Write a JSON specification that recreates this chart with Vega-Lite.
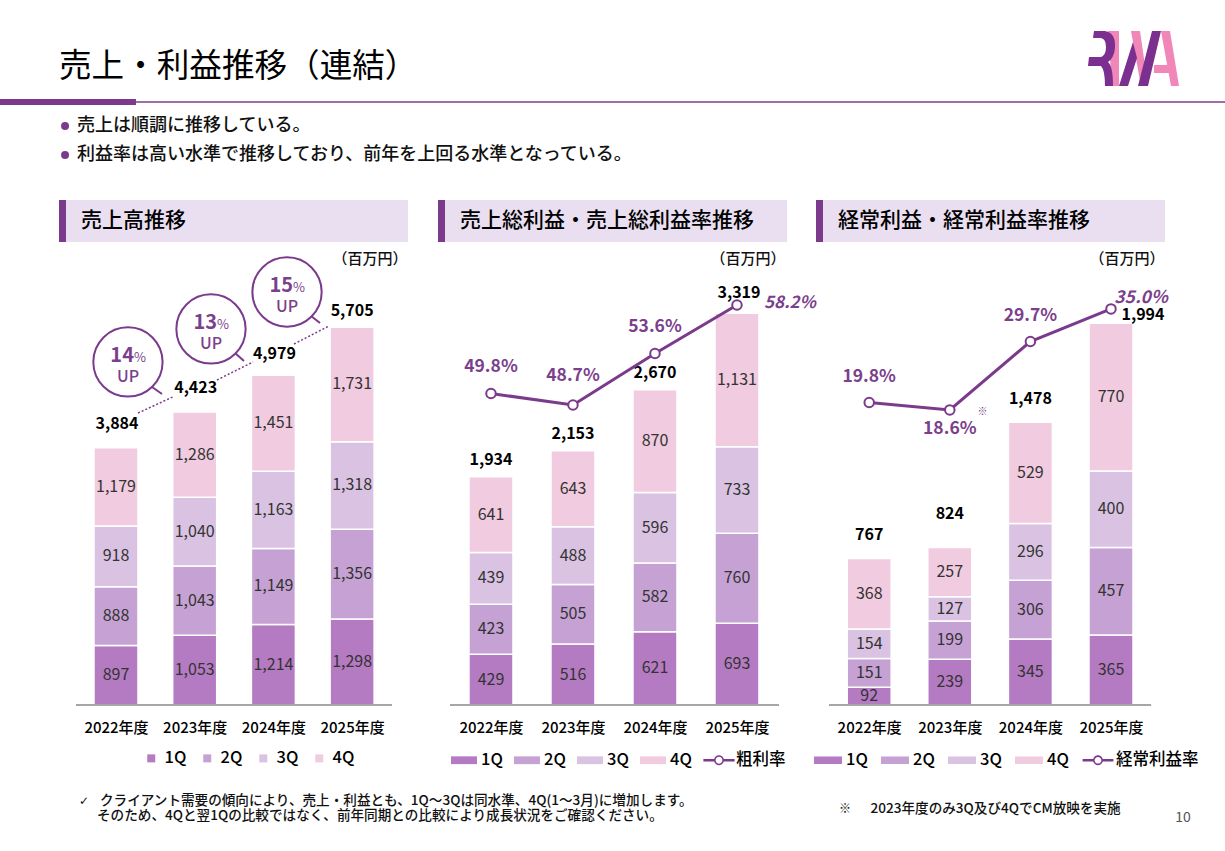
{
"$schema":"https://vega.github.io/schema/vega-lite/v6.json",
"background":"white",
"padding":{"left":0,"right":0,"top":31,"bottom":0},
"spacing":4,
"config":{"view":{"stroke":null},"font":"Noto Sans CJK JP","text":{"font":"Noto Sans CJK JP"},"title":{"font":"Noto Sans CJK JP"},"legend":{"labelFont":"Noto Sans CJK JP"},"axis":{"labelFont":"Noto Sans CJK JP"}},
"datasets":{
"blank":[{}],
"sales":[
{"year":2022,"quarter":"1Q","value":897},{"year":2022,"quarter":"2Q","value":888},{"year":2022,"quarter":"3Q","value":918},{"year":2022,"quarter":"4Q","value":1179},
{"year":2023,"quarter":"1Q","value":1053},{"year":2023,"quarter":"2Q","value":1043},{"year":2023,"quarter":"3Q","value":1040},{"year":2023,"quarter":"4Q","value":1286},
{"year":2024,"quarter":"1Q","value":1214},{"year":2024,"quarter":"2Q","value":1149},{"year":2024,"quarter":"3Q","value":1163},{"year":2024,"quarter":"4Q","value":1451},
{"year":2025,"quarter":"1Q","value":1298},{"year":2025,"quarter":"2Q","value":1356},{"year":2025,"quarter":"3Q","value":1318},{"year":2025,"quarter":"4Q","value":1731}],
"salesTotal":[{"year":2022,"total":3884},{"year":2023,"total":4423},{"year":2024,"total":4979},{"year":2025,"total":5705}],
"growth":[{"year":2022.152,"level":5177,"pct":"14","word":"UP"},{"year":2023.207,"level":5675,"pct":"13","word":"UP"},{"year":2024.173,"level":6233,"pct":"15","word":"UP"}],
"tails":[{"year":2022.457,"yearEnd":2022.585,"level":4799,"levelEnd":4694},{"year":2023.512,"yearEnd":2023.626,"level":5312,"levelEnd":5192},{"year":2024.478,"yearEnd":2024.592,"level":5871,"levelEnd":5765}],
"trend":[{"year":2022.28,"yearEnd":2022.72,"level":4407,"levelEnd":4648},{"year":2023.283,"yearEnd":2023.741,"level":4905,"levelEnd":5177},{"year":2024.262,"yearEnd":2024.706,"level":5448,"levelEnd":5720}],
"gross":[
{"year":2022,"quarter":"1Q","value":429},{"year":2022,"quarter":"2Q","value":423},{"year":2022,"quarter":"3Q","value":439},{"year":2022,"quarter":"4Q","value":641},
{"year":2023,"quarter":"1Q","value":516},{"year":2023,"quarter":"2Q","value":505},{"year":2023,"quarter":"3Q","value":488},{"year":2023,"quarter":"4Q","value":643},
{"year":2024,"quarter":"1Q","value":621},{"year":2024,"quarter":"2Q","value":582},{"year":2024,"quarter":"3Q","value":596},{"year":2024,"quarter":"4Q","value":870},
{"year":2025,"quarter":"1Q","value":693},{"year":2025,"quarter":"2Q","value":760},{"year":2025,"quarter":"3Q","value":733},{"year":2025,"quarter":"4Q","value":1131}],
"grossTotal":[{"year":2022,"total":1934},{"year":2023,"total":2153},{"year":2024,"total":2670},{"year":2025,"total":3319}],
"grossRate":[{"year":2022,"rate":0.498},{"year":2023,"rate":0.487},{"year":2024,"rate":0.536},{"year":2025,"rate":0.582}],
"ordinary":[
{"year":2022,"quarter":"1Q","value":92},{"year":2022,"quarter":"2Q","value":151},{"year":2022,"quarter":"3Q","value":154},{"year":2022,"quarter":"4Q","value":368},
{"year":2023,"quarter":"1Q","value":239},{"year":2023,"quarter":"2Q","value":199},{"year":2023,"quarter":"3Q","value":127},{"year":2023,"quarter":"4Q","value":257},
{"year":2024,"quarter":"1Q","value":345},{"year":2024,"quarter":"2Q","value":306},{"year":2024,"quarter":"3Q","value":296},{"year":2024,"quarter":"4Q","value":529},
{"year":2025,"quarter":"1Q","value":365},{"year":2025,"quarter":"2Q","value":457},{"year":2025,"quarter":"3Q","value":400},{"year":2025,"quarter":"4Q","value":770}],
"ordinaryTotal":[{"year":2022,"total":767},{"year":2023,"total":824},{"year":2024,"total":1478},{"year":2025,"total":1994}],
"ordinaryRate":[{"year":2022,"rate":0.198},{"year":2023,"rate":0.186},{"year":2024,"rate":0.297},{"year":2025,"rate":0.35}]
},
"resolve":{"scale":{"color":"independent","shape":"independent"}},
"vconcat":[
{"width":1225,"height":94,
 "title":{"text":"売上・利益推移（連結）","anchor":"start","frame":"group","dx":59,"fontSize":32.6,"fontWeight":400,"color":"#000000","offset":-53},
 "data":{"name":"blank"},
 "layer":[
 {"mark":{"type":"point","filled":true,"opacity":1,"size":4,"color":"#F087B8","shape":"M-26,-27H-15L-15,28H-22ZM-3,-27H6L14,28H7ZM27,-27H36L45,28H37ZM20,7H37V15H20Z"},
  "encoding":{"x":{"datum":0.92571,"scale":{"domain":[0,1],"nice":false,"zero":false},"axis":null},"y":{"datum":-1.347,"scale":{"domain":[0.17,3.411],"reverse":true,"nice":false,"zero":false},"axis":null}}},
 {"mark":{"type":"point","filled":true,"opacity":1,"size":4,"color":"#7B2F8E","shape":"M-40,-27H-29Q-18,-25-19,-10Q-20,0-26,4Q-21,8-21,28H-29Q-29,12-33,8H-46L-45,-1H-33Q-28,-3-28,-11Q-28,-19-33,-20H-41ZM-15,28H-6L3,0L-1,-16ZM4,28H14L27,-27H18Z"},
  "encoding":{"x":{"datum":0.92571},"y":{"datum":-1.347}}},
 {"mark":{"type":"rect","color":"#7B3F8C"},"encoding":{"x":{"datum":0},"x2":{"datum":1},"y":{"datum":0.145},"y2":{"datum":0.195}}},
 {"mark":{"type":"rect","color":"#7B3A8C"},"encoding":{"x":{"datum":0},"x2":{"datum":0.111},"y":{"datum":0.067},"y2":{"datum":0.273}}},
 {"data":{"values":[{"rank":1,"text":"売上は順調に推移している。"},{"rank":2,"text":"利益率は高い水準で推移しており、前年を上回る水準となっている。"}]},
  "layer":[
  {"mark":{"type":"point","filled":true,"opacity":1,"size":64,"color":"#7B3A8C"},"encoding":{"x":{"datum":0.0531},"y":{"field":"rank","type":"quantitative"}}},
  {"mark":{"type":"text","align":"left","baseline":"middle","fontSize":18,"fontWeight":500,"color":"#111111"},"encoding":{"x":{"datum":0.0629},"y":{"field":"rank","type":"quantitative"},"text":{"field":"text"}}}
  ]}
 ]},
{"hconcat":[
 {"width":59,"height":1,"data":{"name":"blank"},"mark":{"type":"rule","opacity":0},"encoding":{"x":{"datum":0,"axis":null}}},
 {"hconcat":[
 {"vconcat":[
  {"width":349,"height":42,"view":{"fill":"#E9DFF0"},"data":{"values":[{"label":"売上高推移"}]},"layer":[
   {"mark":{"type":"rect","color":"#7B3A8C"},"encoding":{"x":{"datum":0,"scale":{"domain":[0,1],"nice":false},"axis":null},"x2":{"datum":0.02}}},
   {"mark":{"type":"text","align":"left","baseline":"middle","fontSize":21,"fontWeight":500,"color":"#000000"},"encoding":{"x":{"datum":0.063},"text":{"field":"label"}}}]},
  {"width":349,"height":455,
   "encoding":{"x":{"field":"year","type":"quantitative","title":null,"scale":{"domain":[2021.276,2025.71],"nice":false,"zero":false,"padding":0},"axis":{"values":[2022,2023,2024,2025],"labelExpr":"datum.value+'年度'","title":null,"domain":false,"ticks":false,"grid":false,"labelPadding":15,"labelFontSize":15,"labelFontWeight":500,"labelColor":"#000000"}}},
   "layer":[
   {"data":{"name":"sales"},"mark":{"type":"bar","size":44,"stroke":"white","strokeWidth":1.5},
    "encoding":{"y":{"field":"value","type":"quantitative","stack":"zero","title":null,"scale":{"domain":[0,6867],"nice":false},"axis":null},"color":{"field":"quarter","type":"nominal","scale":{"domain":["1Q","2Q","3Q","4Q"],"range":["#B57BC2","#C6A2D4","#DAC3E2","#F1CBDF"]},"legend":{"orient":"none","legendX":84,"legendY":550,"direction":"horizontal","columns":4,"title":null,"symbolType":"square","symbolSize":64,"symbolStrokeWidth":0,"symbolOpacity":1,"labelFontSize":16.5,"labelFontWeight":500,"labelColor":"#000000","labelOffset":5,"columnPadding":12}},"order":{"field":"quarter","sort":"ascending"}}},
   {"data":{"name":"sales"},"mark":{"type":"text","fontSize":16,"color":"#333333","baseline":"middle"},
    "encoding":{"y":{"field":"value","type":"quantitative","stack":"zero","bandPosition":0.5},"detail":{"field":"quarter"},"order":{"field":"quarter","sort":"ascending"},"text":{"field":"value","type":"quantitative","format":","}}},
   {"data":{"values":[{"year":2021.492}]},"mark":{"type":"rule","color":"#A6A6A6","strokeWidth":2},"encoding":{"x2":{"datum":2025.507},"y":{"datum":0}}},
   {"data":{"name":"salesTotal"},"transform":[{"filter":"datum.year<2024"}],"mark":{"type":"text","fontSize":16,"fontWeight":700,"color":"#000000","baseline":"middle","dy":-23.5,"dx":1},"encoding":{"y":{"field":"total","type":"quantitative"},"text":{"field":"total","type":"quantitative","format":","}}},
   {"data":{"name":"salesTotal"},"transform":[{"filter":"datum.year==2024"}],"mark":{"type":"text","fontSize":16,"fontWeight":700,"color":"#000000","baseline":"middle","dy":-21,"dx":1},"encoding":{"y":{"field":"total","type":"quantitative"},"text":{"field":"total","type":"quantitative","format":","}}},
   {"data":{"name":"salesTotal"},"transform":[{"filter":"datum.year==2025"}],"mark":{"type":"text","fontSize":16,"fontWeight":700,"color":"#000000","baseline":"middle","dy":-16},"encoding":{"y":{"field":"total","type":"quantitative"},"text":{"field":"total","type":"quantitative","format":","}}},
   {"data":{"name":"trend"},"mark":{"type":"rule","color":"#7B3A8C","strokeWidth":1.5,"strokeDash":[2,2]},"encoding":{"x2":{"field":"yearEnd"},"y":{"field":"level","type":"quantitative"},"y2":{"field":"levelEnd"}}},
   {"data":{"name":"tails"},"mark":{"type":"rule","color":"#7B3A8C","strokeWidth":2},"encoding":{"x2":{"field":"yearEnd"},"y":{"field":"level","type":"quantitative"},"y2":{"field":"levelEnd"}}},
   {"data":{"name":"growth"},"encoding":{"y":{"field":"level","type":"quantitative"}},"layer":[
    {"mark":{"type":"point","shape":"circle","size":4800,"fill":"white","filled":false,"opacity":1,"fillOpacity":0,"stroke":"#7B3A8C","strokeWidth":2},"encoding":{}},
    {"mark":{"type":"text","align":"right","baseline":"middle","dx":6,"dy":-6,"fontSize":20,"fontWeight":700,"color":"#7B3F8C"},"encoding":{"text":{"field":"pct"}}},
    {"mark":{"type":"text","align":"left","baseline":"middle","dx":6,"dy":-4,"fontSize":13,"fontWeight":400,"color":"#7B3F8C"},"encoding":{"text":{"value":"%"}}},
    {"mark":{"type":"text","baseline":"middle","dy":15,"fontSize":16,"fontWeight":500,"color":"#7B3F8C"},"encoding":{"text":{"field":"word"}}}]},
   {"data":{"values":[{"year":2025.227}]},"mark":{"type":"text","fontSize":15,"fontWeight":500,"color":"#111111","baseline":"middle"},"encoding":{"y":{"datum":6731},"text":{"value":"（百万円）"}}}
   ]}
  ],"spacing":8},
 {"vconcat":[
  {"width":349,"height":42,"view":{"fill":"#E9DFF0"},"data":{"values":[{"label":"売上総利益・売上総利益率推移"}]},"layer":[
   {"mark":{"type":"rect","color":"#7B3A8C"},"encoding":{"x":{"datum":0,"scale":{"domain":[0,1],"nice":false},"axis":null},"x2":{"datum":0.02}}},
   {"mark":{"type":"text","align":"left","baseline":"middle","fontSize":21,"fontWeight":500,"color":"#000000"},"encoding":{"x":{"datum":0.063},"text":{"field":"label"}}}]},
  {"width":349,"height":455,
   "encoding":{"x":{"field":"year","type":"quantitative","title":null,"scale":{"domain":[2021.354,2025.61],"nice":false,"zero":false,"padding":0},"axis":{"values":[2022,2023,2024,2025],"labelExpr":"datum.value+'年度'","title":null,"domain":false,"ticks":false,"grid":false,"labelPadding":15,"labelFontSize":15,"labelFontWeight":500,"labelColor":"#000000"}}},
   "resolve":{"scale":{"y":"independent"}},
   "layer":[
   {"layer":[
    {"data":{"name":"gross"},"mark":{"type":"bar","size":44,"stroke":"white","strokeWidth":1.5},
     "encoding":{"y":{"field":"value","type":"quantitative","stack":"zero","title":null,"scale":{"domain":[0,3852],"nice":false},"axis":null},"color":{"field":"quarter","type":"nominal","scale":{"domain":["1Q","2Q","3Q","4Q","粗利率"],"range":["#B57BC2","#C6A2D4","#DAC3E2","#F1CBDF","#7B3A8C"]},"legend":{"orient":"none","legendX":13,"legendY":547,"direction":"horizontal","columns":5,"title":null,"symbolSize":676,"symbolStrokeWidth":0,"symbolOpacity":1,"labelFontSize":16.5,"labelFontWeight":500,"labelColor":"#000000","labelOffset":4,"columnPadding":11}},"order":{"field":"quarter","sort":"ascending"}}},
    {"data":{"name":"gross"},"mark":{"type":"text","fontSize":16,"color":"#333333","baseline":"middle"},
     "encoding":{"y":{"field":"value","type":"quantitative","stack":"zero","bandPosition":0.5},"detail":{"field":"quarter"},"order":{"field":"quarter","sort":"ascending"},"text":{"field":"value","type":"quantitative","format":","}}},
    {"data":{"values":[{"year":2021.5}]},"mark":{"type":"rule","color":"#A6A6A6","strokeWidth":2},"encoding":{"x2":{"datum":2025.512},"y":{"datum":0}}},
    {"data":{"name":"grossTotal"},"transform":[{"filter":"datum.year<2025"}],"mark":{"type":"text","fontSize":16,"fontWeight":700,"color":"#000000","baseline":"middle","dy":-17},"encoding":{"y":{"field":"total","type":"quantitative"},"text":{"field":"total","type":"quantitative","format":","}}},
    {"data":{"name":"grossTotal"},"transform":[{"filter":"datum.year==2025"}],"mark":{"type":"text","fontSize":16,"fontWeight":700,"color":"#000000","baseline":"middle","dy":-20,"dx":2},"encoding":{"y":{"field":"total","type":"quantitative"},"text":{"field":"total","type":"quantitative","format":","}}},
    {"data":{"values":[{"year":2025.134}]},"mark":{"type":"text","fontSize":15,"fontWeight":500,"color":"#111111","baseline":"middle"},"encoding":{"y":{"datum":3776},"text":{"value":"（百万円）"}}},
    {"data":{"name":"gross"},"mark":{"type":"point","filled":true,"opacity":0},
     "encoding":{"shape":{"field":"quarter","type":"nominal","scale":{"domain":["1Q","2Q","3Q","4Q","粗利率"],"range":["M-1,-0.3H1V0.3H-1Z","M-1,-0.3H1V0.3H-1Z","M-1,-0.3H1V0.3H-1Z","M-1,-0.3H1V0.3H-1Z","M-1.2,-0.1H-0.36V0.1H-1.2ZM0.36,-0.1H1.2V0.1H0.36ZM0,-0.38A0.38,0.38,0,1,1,0,0.38A0.38,0.38,0,1,1,0,-0.38ZM0,-0.26A0.26,0.26,0,1,0,0,0.26A0.26,0.26,0,1,0,0,-0.26Z"]},"legend":{"orient":"none","legendX":13,"legendY":547,"direction":"horizontal","columns":5,"title":null,"symbolSize":676,"symbolStrokeWidth":0,"symbolOpacity":1,"labelFontSize":16.5,"labelFontWeight":500,"labelColor":"#000000","labelOffset":4,"columnPadding":11}}}}
    ]},
   {"data":{"name":"grossRate"},"encoding":{"y":{"field":"rate","type":"quantitative","title":null,"scale":{"domain":[0.202,0.6343],"nice":false,"zero":false},"axis":null}},"layer":[
    {"mark":{"type":"line","color":"#7B3A8C","strokeWidth":3},"encoding":{}},
    {"mark":{"type":"point","shape":"circle","size":90,"filled":true,"fill":"white","opacity":1,"stroke":"#7B3A8C","strokeWidth":2},"encoding":{}},
    {"transform":[{"filter":"datum.year==2022||datum.year==2024"}],"mark":{"type":"text","fontSize":17.5,"fontWeight":700,"color":"#7B3F8C","baseline":"middle","dy":-26.5},"encoding":{"text":{"field":"rate","type":"quantitative","format":".1%"}}},
    {"transform":[{"filter":"datum.year==2023"}],"mark":{"type":"text","fontSize":17.5,"fontWeight":700,"color":"#7B3F8C","baseline":"middle","dy":-29},"encoding":{"text":{"field":"rate","type":"quantitative","format":".1%"}}},
    {"transform":[{"filter":"datum.year==2025"}],"mark":{"type":"text","fontSize":17,"fontWeight":700,"fontStyle":"italic","color":"#7B3F8C","baseline":"middle","dy":-2,"dx":53},"encoding":{"text":{"field":"rate","type":"quantitative","format":".1%"}}}
    ]}
   ]}
  ],"spacing":8}
 ],"spacing":30,"resolve":{"scale":{"color":"independent","shape":"independent"}}},
 {"vconcat":[
  {"width":349,"height":42,"view":{"fill":"#E9DFF0"},"data":{"values":[{"label":"経常利益・経常利益率推移"}]},"layer":[
   {"mark":{"type":"rect","color":"#7B3A8C"},"encoding":{"x":{"datum":0,"scale":{"domain":[0,1],"nice":false},"axis":null},"x2":{"datum":0.02}}},
   {"mark":{"type":"text","align":"left","baseline":"middle","fontSize":21,"fontWeight":500,"color":"#000000"},"encoding":{"x":{"datum":0.063},"text":{"field":"label"}}}]},
  {"width":349,"height":455,
   "encoding":{"x":{"field":"year","type":"quantitative","title":null,"scale":{"domain":[2021.34,2025.67],"nice":false,"zero":false,"padding":0},"axis":{"values":[2022,2023,2024,2025],"labelExpr":"datum.value+'年度'","title":null,"domain":false,"ticks":false,"grid":false,"labelPadding":15,"labelFontSize":15,"labelFontWeight":500,"labelColor":"#000000"}}},
   "resolve":{"scale":{"y":"independent"}},
   "layer":[
   {"layer":[
    {"data":{"name":"ordinary"},"mark":{"type":"bar","size":44,"stroke":"white","strokeWidth":1.5},
     "encoding":{"y":{"field":"value","type":"quantitative","stack":"zero","title":null,"scale":{"domain":[0,2375],"nice":false},"axis":null},"color":{"field":"quarter","type":"nominal","scale":{"domain":["1Q","2Q","3Q","4Q","経常利益率"],"range":["#B57BC2","#C6A2D4","#DAC3E2","#F1CBDF","#7B3A8C"]},"legend":{"orient":"none","legendX":-2,"legendY":546,"direction":"horizontal","columns":5,"title":null,"symbolSize":784,"symbolStrokeWidth":0,"symbolOpacity":1,"labelFontSize":16.5,"labelFontWeight":500,"labelColor":"#000000","labelOffset":4,"columnPadding":13}},"order":{"field":"quarter","sort":"ascending"}}},
    {"data":{"name":"ordinary"},"mark":{"type":"text","fontSize":16,"color":"#333333","baseline":"middle"},
     "encoding":{"y":{"field":"value","type":"quantitative","stack":"zero","bandPosition":0.5},"detail":{"field":"quarter"},"order":{"field":"quarter","sort":"ascending"},"text":{"field":"value","type":"quantitative","format":","}}},
    {"data":{"values":[{"year":2021.502}]},"mark":{"type":"rule","color":"#A6A6A6","strokeWidth":2},"encoding":{"x2":{"datum":2025.498},"y":{"datum":0}}},
    {"data":{"name":"ordinaryTotal"},"transform":[{"filter":"datum.year==2022||datum.year==2024"}],"mark":{"type":"text","fontSize":16,"fontWeight":700,"color":"#000000","baseline":"middle","dy":-23},"encoding":{"y":{"field":"total","type":"quantitative"},"text":{"field":"total","type":"quantitative","format":","}}},
    {"data":{"name":"ordinaryTotal"},"transform":[{"filter":"datum.year==2023"}],"mark":{"type":"text","fontSize":16,"fontWeight":700,"color":"#000000","baseline":"middle","dy":-33},"encoding":{"y":{"field":"total","type":"quantitative"},"text":{"field":"total","type":"quantitative","format":","}}},
    {"data":{"name":"ordinaryTotal"},"transform":[{"filter":"datum.year==2025"}],"mark":{"type":"text","fontSize":16,"fontWeight":700,"color":"#000000","baseline":"middle","dy":-8,"dx":32},"encoding":{"y":{"field":"total","type":"quantitative"},"text":{"field":"total","type":"quantitative","format":","}}},
    {"data":{"values":[{"year":2025.2}]},"mark":{"type":"text","fontSize":15,"fontWeight":500,"color":"#111111","baseline":"middle"},"encoding":{"y":{"datum":2328},"text":{"value":"（百万円）"}}},
    {"data":{"values":[{"year":2023.407}]},"mark":{"type":"text","fontSize":10,"color":"#7B3F8C","baseline":"middle"},"encoding":{"y":{"datum":1529},"text":{"value":"※"}}},
    {"data":{"name":"ordinary"},"mark":{"type":"point","filled":true,"opacity":0},
     "encoding":{"shape":{"field":"quarter","type":"nominal","scale":{"domain":["1Q","2Q","3Q","4Q","経常利益率"],"range":["M-1,-0.27H1V0.27H-1Z","M-1,-0.27H1V0.27H-1Z","M-1,-0.27H1V0.27H-1Z","M-1,-0.27H1V0.27H-1Z","M-1.1,-0.09H-0.33V0.09H-1.1ZM0.33,-0.09H1.1V0.09H0.33ZM0,-0.35A0.35,0.35,0,1,1,0,0.35A0.35,0.35,0,1,1,0,-0.35ZM0,-0.24A0.24,0.24,0,1,0,0,0.24A0.24,0.24,0,1,0,0,-0.24Z"]},"legend":{"orient":"none","legendX":-2,"legendY":546,"direction":"horizontal","columns":5,"title":null,"symbolSize":784,"symbolStrokeWidth":0,"symbolOpacity":1,"labelFontSize":16.5,"labelFontWeight":500,"labelColor":"#000000","labelOffset":4,"columnPadding":13}}}}
    ]},
   {"data":{"name":"ordinaryRate"},"encoding":{"y":{"field":"rate","type":"quantitative","title":null,"scale":{"domain":[-0.293,0.4456],"nice":false,"zero":false},"axis":null}},"layer":[
    {"mark":{"type":"line","color":"#7B3A8C","strokeWidth":3},"encoding":{}},
    {"mark":{"type":"point","shape":"circle","size":90,"filled":true,"fill":"white","opacity":1,"stroke":"#7B3A8C","strokeWidth":2},"encoding":{}},
    {"transform":[{"filter":"datum.year==2022||datum.year==2024"}],"mark":{"type":"text","fontSize":17.5,"fontWeight":700,"color":"#7B3F8C","baseline":"middle","dy":-26},"encoding":{"text":{"field":"rate","type":"quantitative","format":".1%"}}},
    {"transform":[{"filter":"datum.year==2023"}],"mark":{"type":"text","fontSize":17.5,"fontWeight":700,"color":"#7B3F8C","baseline":"middle","dy":19},"encoding":{"text":{"field":"rate","type":"quantitative","format":".1%"}}},
    {"transform":[{"filter":"datum.year==2025"}],"mark":{"type":"text","fontSize":17.5,"fontWeight":700,"fontStyle":"italic","color":"#7B3F8C","baseline":"middle","dy":-11,"dx":30},"encoding":{"text":{"field":"rate","type":"quantitative","format":".1%"}}}
    ]}
   ]}
  ],"spacing":8}
 ],"spacing":-7,"resolve":{"scale":{"color":"independent","shape":"independent"}}},
{"width":1225,"height":60,
 "data":{"values":[{"rank":1,"mark":"✓","text":"クライアント需要の傾向により、売上・利益とも、1Q～3Qは同水準、4Q(1～3月)に増加します。"},{"rank":2,"mark":"","text":"そのため、4Qと翌1Qの比較ではなく、前年同期との比較により成長状況をご確認ください。"}]},
 "encoding":{"y":{"field":"rank","type":"quantitative","title":null,"scale":{"domain":[-0.867,3.133],"reverse":true,"nice":false,"zero":false},"axis":null}},
 "layer":[
 {"transform":[{"filter":"datum.rank==1"}],"mark":{"type":"text","align":"left","baseline":"middle","fontSize":13.6,"fontWeight":500,"color":"#111111"},"encoding":{"x":{"datum":0.0816,"scale":{"domain":[0,1],"nice":false},"axis":null},"text":{"field":"text"}}},
 {"transform":[{"filter":"datum.rank==2"}],"mark":{"type":"text","align":"left","baseline":"middle","fontSize":13.6,"fontWeight":500,"color":"#111111"},"encoding":{"x":{"datum":0.0792},"text":{"field":"text"}}},
 {"transform":[{"filter":"datum.rank==1"}],"mark":{"type":"text","align":"left","baseline":"middle","fontSize":12,"font":"DejaVu Sans","color":"#111111"},"encoding":{"x":{"datum":0.0645},"text":{"field":"mark"}}},
 {"data":{"values":[{"rank":1.53}]},"mark":{"type":"text","align":"left","baseline":"middle","fontSize":12,"color":"#111111"},"encoding":{"x":{"datum":0.6849},"text":{"value":"※"}}},
 {"data":{"values":[{"rank":1.53}]},"mark":{"type":"text","align":"left","baseline":"middle","fontSize":13.6,"fontWeight":500,"color":"#111111"},"encoding":{"x":{"datum":0.7106},"text":{"value":"2023年度のみ3Q及び4QでCM放映を実施"}}},
 {"data":{"values":[{"rank":2.13}]},"mark":{"type":"text","baseline":"middle","fontSize":14,"color":"#555555"},"encoding":{"x":{"datum":0.9657},"text":{"value":"10"}}}
 ]}
]}
